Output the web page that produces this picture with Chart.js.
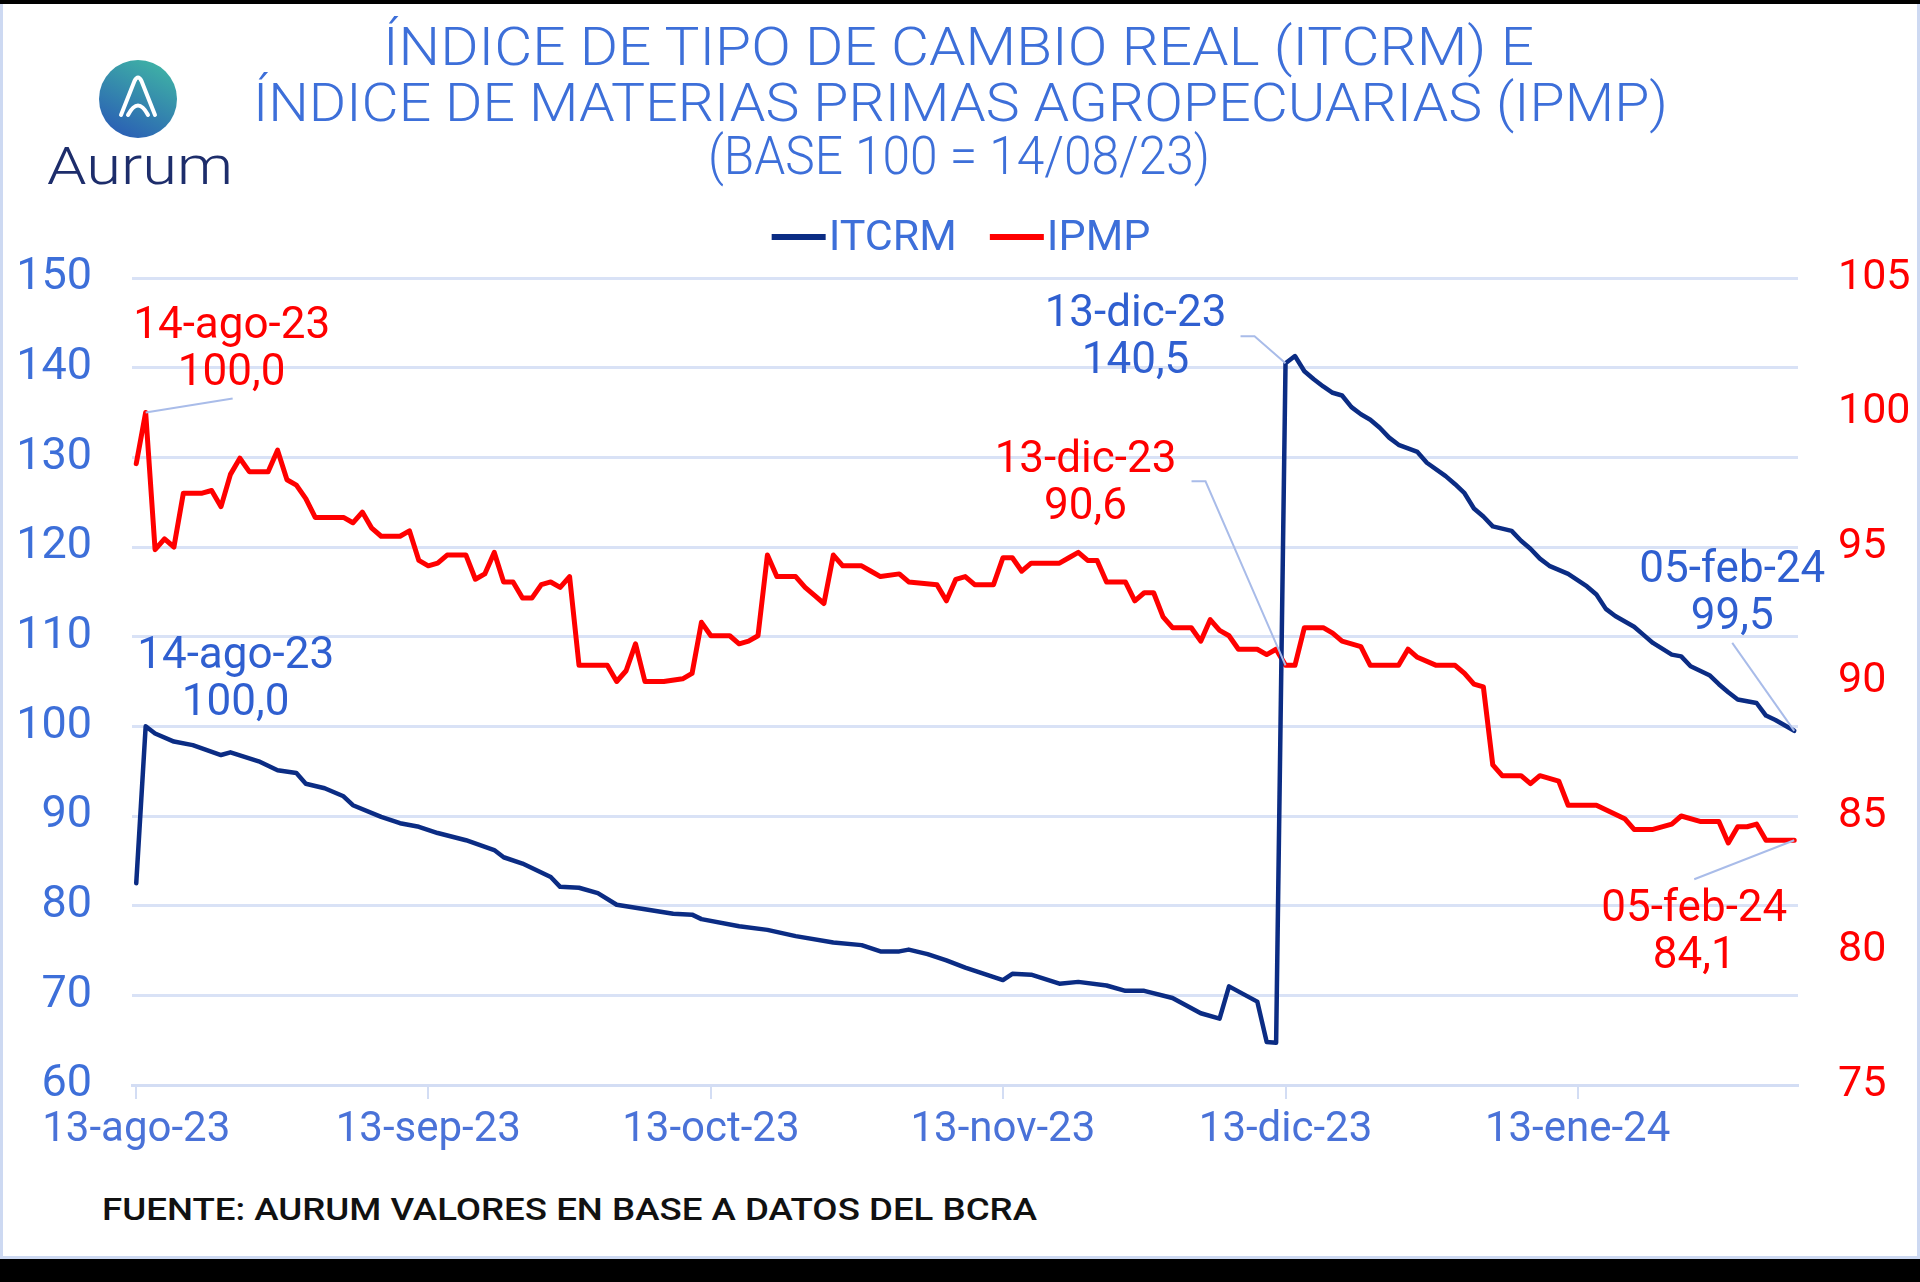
<!DOCTYPE html>
<html lang="es">
<head>
<meta charset="utf-8">
<title>ITCRM e IPMP</title>
<script src="https://cdn.jsdelivr.net/npm/chart.js@4.4.1/dist/chart.umd.min.js"></script>
<style>
  html, body { margin: 0; padding: 0; background: #000; }
  body { width: 1920px; height: 1282px; position: relative; overflow: hidden; font-family: Roboto, "Noto Sans", sans-serif; }
  #card { position: absolute; left: 0; top: 4px; width: 1920px; height: 1255px; background: #fff;
          box-sizing: border-box; border: 3px solid #cdd9f2; border-top: none; }
  #chart { position: absolute; left: 0; top: 0; }
  .fit { position: absolute; white-space: nowrap; line-height: 1; transform-origin: left top; }
  .title { color: #3d6fd9; font-size: 53px; font-weight: 300; }
  #brand { color: #1d2d6b; font-size: 51px; font-weight: 300; }
  #source { color: #111; font-size: 32px; font-weight: 500; }
  #logo { position: absolute; left: 99px; top: 60px; }
</style>
</head>
<body>
<div id="card"></div>
<svg id="logo" width="78" height="78" viewBox="0 0 78 78">
  <defs>
    <linearGradient id="lg" x1="0.75" y1="0" x2="0.25" y2="1">
      <stop offset="0" stop-color="#3fb3a5"/>
      <stop offset="1" stop-color="#2a5db5"/>
    </linearGradient>
  </defs>
  <circle cx="39" cy="39" r="39" fill="url(#lg)"/>
  <path d="M22 55 L35.5 21 Q39 14 42.5 21 L56 55" fill="none" stroke="#fff" stroke-width="4" stroke-linecap="round" stroke-linejoin="round"/>
  <path d="M29 55 Q39 36 49 55" fill="none" stroke="#fff" stroke-width="4" stroke-linecap="round"/>
</svg>
<div id="brand" class="fit">Aurum</div>
<div id="t1" class="fit title">ÍNDICE DE TIPO DE CAMBIO REAL (ITCRM) E</div>
<div id="t2" class="fit title">ÍNDICE DE MATERIAS PRIMAS AGROPECUARIAS (IPMP)</div>
<div id="t3" class="fit title">(BASE 100 = 14/08/23)</div>
<div id="source" class="fit">FUENTE: AURUM VALORES EN BASE A DATOS DEL BCRA</div>
<canvas id="chart" width="1920" height="1282"></canvas>
<script>
// datos (base 100 = 14/08/23)
const itcrmDates = [
  '2023-08-13','2023-08-14','2023-08-15','2023-08-17','2023-08-19','2023-08-22','2023-08-23','2023-08-26',
  '2023-08-28','2023-08-30','2023-08-31','2023-09-02','2023-09-04','2023-09-05','2023-09-08','2023-09-10',
  '2023-09-12','2023-09-14','2023-09-17','2023-09-20','2023-09-21','2023-09-23','2023-09-26','2023-09-27',
  '2023-09-29','2023-10-01','2023-10-03','2023-10-06','2023-10-09','2023-10-11','2023-10-12','2023-10-16',
  '2023-10-19','2023-10-22','2023-10-26','2023-10-29','2023-10-31','2023-11-02','2023-11-03','2023-11-05',
  '2023-11-07','2023-11-09','2023-11-11','2023-11-13','2023-11-14','2023-11-16','2023-11-19','2023-11-21',
  '2023-11-24','2023-11-26','2023-11-28','2023-12-01','2023-12-04','2023-12-06','2023-12-07','2023-12-10',
  '2023-12-11','2023-12-12','2023-12-13','2023-12-14','2023-12-15','2023-12-16','2023-12-17','2023-12-18',
  '2023-12-19','2023-12-20','2023-12-21','2023-12-22','2023-12-23','2023-12-24','2023-12-25','2023-12-27',
  '2023-12-28','2023-12-30','2023-12-31','2024-01-01','2024-01-02','2024-01-03','2024-01-04','2024-01-06',
  '2024-01-07','2024-01-08','2024-01-09','2024-01-10','2024-01-12','2024-01-14','2024-01-15','2024-01-16',
  '2024-01-17','2024-01-19','2024-01-20','2024-01-21','2024-01-23','2024-01-24','2024-01-25','2024-01-27',
  '2024-01-28','2024-01-29','2024-01-30','2024-02-01','2024-02-02','2024-02-03','2024-02-05'
];
const itcrmValues = [
  82.5, 100.0, 99.2, 98.3, 97.9, 96.8, 97.1, 96.1,
  95.1, 94.8, 93.6, 93.1, 92.2, 91.2, 89.9, 89.2,
  88.8, 88.1, 87.3, 86.2, 85.4, 84.7, 83.2, 82.1,
  82.0, 81.4, 80.1, 79.6, 79.1, 79.0, 78.5, 77.7,
  77.3, 76.6, 75.9, 75.6, 74.9, 74.9, 75.1, 74.6,
  73.9, 73.1, 72.4, 71.7, 72.4, 72.3, 71.3, 71.5,
  71.1, 70.5, 70.5, 69.7, 68.0, 67.4, 71.0, 69.3,
  64.8, 64.7, 140.5, 141.3, 139.6, 138.7, 137.9, 137.2,
  136.9, 135.6, 134.8, 134.2, 133.3, 132.2, 131.4, 130.6,
  129.4, 127.9, 127.0, 126.0, 124.3, 123.4, 122.3, 121.8,
  120.7, 119.8, 118.7, 117.9, 117.0, 115.6, 114.7, 113.1,
  112.3, 111.1, 110.2, 109.3, 108.0, 107.8, 106.7, 105.7,
  104.7, 103.8, 103.0, 102.6, 101.2, 100.7, 99.5
];
const ipmpDates = [
  '2023-08-13','2023-08-14','2023-08-15','2023-08-16','2023-08-17','2023-08-18','2023-08-20','2023-08-21',
  '2023-08-22','2023-08-23','2023-08-24','2023-08-25','2023-08-27','2023-08-28','2023-08-29','2023-08-30',
  '2023-08-31','2023-09-01','2023-09-04','2023-09-05','2023-09-06','2023-09-07','2023-09-08','2023-09-10',
  '2023-09-11','2023-09-12','2023-09-13','2023-09-14','2023-09-15','2023-09-17','2023-09-18','2023-09-19',
  '2023-09-20','2023-09-21','2023-09-22','2023-09-23','2023-09-24','2023-09-25','2023-09-26','2023-09-27',
  '2023-09-28','2023-09-29','2023-10-02','2023-10-03','2023-10-04','2023-10-05','2023-10-06','2023-10-08',
  '2023-10-10','2023-10-11','2023-10-12','2023-10-13','2023-10-15','2023-10-16','2023-10-17','2023-10-18',
  '2023-10-19','2023-10-20','2023-10-22','2023-10-23','2023-10-24','2023-10-25','2023-10-26','2023-10-27',
  '2023-10-29','2023-10-30','2023-10-31','2023-11-02','2023-11-03','2023-11-06','2023-11-07','2023-11-08',
  '2023-11-09','2023-11-10','2023-11-12','2023-11-13','2023-11-14','2023-11-15','2023-11-16','2023-11-19',
  '2023-11-20','2023-11-21','2023-11-22','2023-11-23','2023-11-24','2023-11-26','2023-11-27','2023-11-28',
  '2023-11-29','2023-11-30','2023-12-01','2023-12-03','2023-12-04','2023-12-05','2023-12-06','2023-12-07',
  '2023-12-08','2023-12-10','2023-12-11','2023-12-12','2023-12-13','2023-12-14','2023-12-15','2023-12-17',
  '2023-12-18','2023-12-19','2023-12-20','2023-12-21','2023-12-22','2023-12-25','2023-12-26','2023-12-27',
  '2023-12-29','2023-12-31','2024-01-01','2024-01-02','2024-01-03','2024-01-04','2024-01-05','2024-01-07',
  '2024-01-08','2024-01-09','2024-01-11','2024-01-12','2024-01-15','2024-01-18','2024-01-19','2024-01-21',
  '2024-01-23','2024-01-24','2024-01-26','2024-01-28','2024-01-29','2024-01-30','2024-01-31','2024-02-01',
  '2024-02-02','2024-02-05'
];
const ipmpValues = [
  98.1, 100.0, 94.9, 95.3, 95.0, 97.0, 97.0, 97.1,
  96.5, 97.7, 98.3, 97.8, 97.8, 98.6, 97.5, 97.3,
  96.8, 96.1, 96.1, 95.9, 96.3, 95.7, 95.4, 95.4,
  95.6, 94.5, 94.3, 94.4, 94.7, 94.7, 93.8, 94.0,
  94.8, 93.7, 93.7, 93.1, 93.1, 93.6, 93.7, 93.5,
  93.9, 90.6, 90.6, 90.0, 90.4, 91.4, 90.0, 90.0,
  90.1, 90.3, 92.2, 91.7, 91.7, 91.4, 91.5, 91.7,
  94.7, 93.9, 93.9, 93.5, 93.2, 92.9, 94.7, 94.3,
  94.3, 94.1, 93.9, 94.0, 93.7, 93.6, 93.0, 93.8,
  93.9, 93.6, 93.6, 94.6, 94.6, 94.1, 94.4, 94.4,
  94.6, 94.8, 94.5, 94.5, 93.7, 93.7, 93.0, 93.3,
  93.3, 92.4, 92.0, 92.0, 91.5, 92.3, 91.9, 91.7,
  91.2, 91.2, 91.0, 91.2, 90.6, 90.6, 92.0, 92.0,
  91.8, 91.5, 91.4, 91.3, 90.6, 90.6, 91.2, 90.9,
  90.6, 90.6, 90.3, 89.9, 89.8, 86.9, 86.5, 86.5,
  86.2, 86.5, 86.3, 85.4, 85.4, 84.9, 84.5, 84.5,
  84.7, 85.0, 84.8, 84.8, 84.0, 84.6, 84.6, 84.7,
  84.1, 84.1
];
const xTickDates = ['2023-08-13','2023-09-13','2023-10-13','2023-11-13','2023-12-13','2024-01-13'];
const xTickLabels = ['13-ago-23','13-sep-23','13-oct-23','13-nov-23','13-dic-23','13-ene-24'];
const itcrmTicks = [60, 70, 80, 90, 100, 110, 120, 130, 140, 150];
const ipmpTicks = [75, 80, 85, 90, 95, 100, 105];
const mesesEs = ['ene','feb','mar','abr','may','jun','jul','ago','sep','oct','nov','dic'];

const BLUE = '#3d6fd9';
const NAVY = '#0b2c84';
const RED = '#ff0000';
const GRID = '#d9e2f6';

function dayNum(iso) {
  const p = iso.split('-').map(Number);
  return (Date.UTC(p[0], p[1] - 1, p[2]) - Date.UTC(2023, 7, 13)) / 86400000;
}
function dateLabel(iso) {
  const p = iso.split('-');
  return p[2] + '-' + mesesEs[Number(p[1]) - 1] + '-' + p[0].slice(2);
}

// textos: ajustar ancho al de la imagen
function fitText(id, left, top, width) {
  const el = document.getElementById(id);
  const w = el.getBoundingClientRect().width;
  el.style.left = left + 'px';
  el.style.top = top + 'px';
  el.style.transform = 'scaleX(' + (width / w) + ')';
}
fitText('t1', 383, 21, 1151);
fitText('t2', 253, 77, 1415);
fitText('t3', 708, 130, 502);
fitText('brand', 47, 141, 186);
fitText('source', 102, 1193, 935);

// etiquetas con fecha y valor
const callouts = [
  { series: 1, date: '2023-08-14', dx: 86, dy: -75, leader: [[87, -14]] },
  { series: 0, date: '2023-08-14', dx: 90, dy: -58, leader: [] },
  { series: 0, date: '2023-12-13', dx: -150, dy: -37, leader: [[-31, -27], [-45, -27]] },
  { series: 1, date: '2023-12-13', dx: -200, dy: -193, leader: [[-80, -184], [-94, -184]] },
  { series: 0, date: '2024-02-05', dx: -62, dy: -149, leader: [[-62, -88]] },
  { series: 1, date: '2024-02-05', dx: -100, dy: 81, leader: [[-100, 39]] }
];

const calloutPlugin = {
  id: 'callouts',
  afterDatasetsDraw(chart) {
    const ctx = chart.ctx;
    ctx.save();
    callouts.forEach(c => {
      const ds = chart.data.datasets[c.series];
      const pt = ds.data.find(p => p.x === dayNum(c.date));
      const px = chart.scales.x.getPixelForValue(pt.x);
      const py = chart.scales[ds.yAxisID].getPixelForValue(pt.y);
      if (c.leader.length) {
        ctx.beginPath();
        ctx.moveTo(px, py);
        c.leader.forEach(l => ctx.lineTo(px + l[0], py + l[1]));
        ctx.strokeStyle = '#a9bce9';
        ctx.lineWidth = 2;
        ctx.stroke();
      }
      ctx.fillStyle = c.series === 0 ? '#2f5fd0' : RED;
      ctx.font = '44px Roboto';
      ctx.textAlign = 'center';
      ctx.textBaseline = 'alphabetic';
      ctx.fillText(dateLabel(c.date), px + c.dx, py + c.dy);
      ctx.fillText(pt.y.toFixed(1).replace('.', ','), px + c.dx, py + c.dy + 47);
    });
    ctx.restore();
  }
};

const legendPlugin = {
  id: 'topLegend',
  afterDraw(chart) {
    const ctx = chart.ctx;
    const sets = chart.data.datasets;
    ctx.save();
    ctx.font = '43px Roboto';
    const widths = sets.map(s => ctx.measureText(s.label).width);
    const total = sets.length * 57 + widths.reduce((a, b) => a + b, 0) + 33 * (sets.length - 1);
    let x = 961 - total / 2;
    sets.forEach((s, i) => {
      ctx.strokeStyle = s.borderColor;
      ctx.lineWidth = 6;
      ctx.beginPath();
      ctx.moveTo(x, 237);
      ctx.lineTo(x + 54, 237);
      ctx.stroke();
      ctx.fillStyle = BLUE;
      ctx.textAlign = 'left';
      ctx.textBaseline = 'alphabetic';
      ctx.fillText(s.label, x + 57, 250);
      x += 57 + widths[i] + 33;
    });
    ctx.restore();
  }
};

new Chart(document.getElementById('chart'), {
  type: 'line',
  data: {
    datasets: [
      {
        label: 'ITCRM',
        data: itcrmDates.map((d, i) => ({ x: dayNum(d), y: itcrmValues[i] })),
        borderColor: NAVY,
        borderWidth: 4.5,
        yAxisID: 'yL',
        order: 0,
        pointRadius: 0,
        tension: 0,
        borderJoinStyle: 'round',
        borderCapStyle: 'round'
      },
      {
        label: 'IPMP',
        data: ipmpDates.map((d, i) => ({ x: dayNum(d), y: ipmpValues[i] })),
        borderColor: RED,
        borderWidth: 5,
        yAxisID: 'yR',
        order: 1,
        pointRadius: 0,
        tension: 0,
        borderJoinStyle: 'round',
        borderCapStyle: 'round'
      }
    ]
  },
  options: {
    responsive: false,
    animation: false,
    devicePixelRatio: 1,
    events: [],
    layout: { padding: { top: 278, left: 0, right: 0, bottom: 0 } },
    plugins: {
      legend: { display: false },
      tooltip: { enabled: false },
      title: { display: false }
    },
    scales: {
      x: {
        type: 'linear',
        min: -0.45,
        max: 176.4,
        afterBuildTicks: s => { s.ticks = xTickDates.map(d => ({ value: dayNum(d) })); },
        afterFit: s => { s.height = 197; },
        ticks: {
          autoSkip: false,
          maxRotation: 0,
          color: '#4a72d8',
          font: { family: 'Roboto', size: 42 },
          padding: 6,
          callback: (v, i) => xTickLabels[i]
        },
        grid: { drawOnChartArea: false, color: '#d3ddf4', lineWidth: 2, tickLength: 14 },
        border: { color: '#d3ddf4', width: 3 }
      },
      yL: {
        position: 'left',
        min: itcrmTicks[0],
        max: itcrmTicks[itcrmTicks.length - 1],
        afterFit: s => { s.width = 132; },
        ticks: { stepSize: itcrmTicks[1] - itcrmTicks[0], color: BLUE, font: { family: 'Roboto', size: 45 }, padding: 40 },
        grid: { color: GRID, lineWidth: 3, drawTicks: false },
        border: { display: false }
      },
      yR: {
        position: 'right',
        min: ipmpTicks[0],
        max: ipmpTicks[ipmpTicks.length - 1],
        afterFit: s => { s.width = 122; },
        ticks: { stepSize: ipmpTicks[1] - ipmpTicks[0], color: RED, font: { family: 'Roboto', size: 43 }, padding: 32 },
        grid: { display: false },
        border: { display: false }
      }
    }
  },
  plugins: [legendPlugin, calloutPlugin]
});
</script>
</body>
</html>
